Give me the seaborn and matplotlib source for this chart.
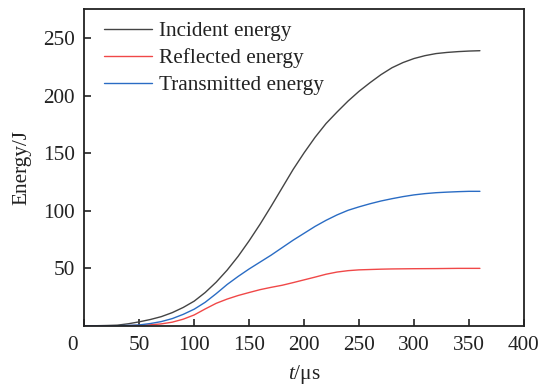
import matplotlib
matplotlib.use("Agg")
import matplotlib.pyplot as plt
import matplotlib.transforms as mtransforms
import seaborn as sns
import pandas as pd

# data
t_inc = [0, 10, 20, 30, 40, 50, 60, 70, 80, 90, 100, 110, 120, 130, 140, 150, 160, 170,
         180, 190, 200, 210, 220, 230, 240, 250, 260, 270, 280, 290, 300, 310, 320, 330,
         340, 350, 360]
incident = [0, 0.1, 0.3, 0.6, 1.8, 3.5, 5.5, 8, 11.5, 16, 21.5, 29, 38, 48.5, 60.5, 74, 88.5,
            104, 120, 136, 150.5, 164, 176, 186, 195.5, 204, 211.5, 218.5, 224.5, 229, 232.5,
            235, 236.8, 237.8, 238.5, 239, 239.3]

t_tra = [0, 10, 20, 30, 40, 50, 60, 70, 80, 90, 100, 110, 120, 130, 140, 150, 160, 170,
         180, 190, 200, 210, 220, 230, 240, 250, 260, 270, 280, 290, 300, 310, 320, 330,
         340, 350, 360]
transmitted = [0, 0, 0, 0.1, 0.4, 0.8, 2, 3.7, 6.3, 10, 14.5, 20.5, 28, 36, 43, 49.5,
               55.5, 61.5, 68, 74.5, 80.5, 86.5, 91.8, 96.5, 100.5, 103.5, 106.2, 108.6, 110.6,
               112.4, 113.9, 115, 115.8, 116.3, 116.7, 117, 117]

t_ref = [0, 10, 20, 30, 40, 50, 60, 70, 80, 90, 100, 110, 120, 130, 140, 150, 160, 170,
         180, 190, 200, 210, 220, 230, 240, 250, 260, 270, 280, 300, 320, 340, 360]
reflected = [0, 0, 0, 0, 0.2, 0.4, 0.9, 1.7, 3.2, 5.8, 9.5, 14.7, 19.6, 23.3, 26.4, 29, 31.5,
             33.5, 35.3, 37.6, 40, 42.4, 44.9, 46.8, 48, 48.7, 49, 49.3, 49.5, 49.7, 49.8, 50, 50]

series_names = ["Incident energy", "Reflected energy", "Transmitted energy"]
colors = ["#444444", "#f04848", "#2a6cc4"]
xticks = [0, 50, 100, 150, 200, 250, 300, 350, 400]
yticks = [50, 100, 150, 200, 250]

df = pd.concat([
    pd.DataFrame({"t": t_inc, "E": incident, "s": series_names[0]}),
    pd.DataFrame({"t": t_ref, "E": reflected, "s": series_names[1]}),
    pd.DataFrame({"t": t_tra, "E": transmitted, "s": series_names[2]}),
])

sns.set_theme(style="white")
plt.rcParams['font.family'] = ['Liberation Serif', 'DejaVu Serif']
plt.rcParams['mathtext.fontset'] = 'custom'
plt.rcParams['mathtext.it'] = 'Liberation Serif:italic'
plt.rcParams['mathtext.rm'] = 'Liberation Serif'

FS = 15.3
fig = plt.figure(figsize=(5.44, 3.87), dpi=100)
ax = fig.add_axes([0.155, 0.158, 0.808, 0.82])

sns.lineplot(data=df, x="t", y="E", hue="s", palette=dict(zip(series_names, colors)),
             ax=ax, linewidth=1.0, sort=True, estimator=None)

ax.set_xlim(0, 400)
ax.set_ylim(0, 276)
ax.set_xticks(xticks)
ax.set_xticklabels([str(v) for v in xticks])
ax.set_yticks(yticks)
ax.set_yticklabels([str(v) for v in yticks])
ax.tick_params(direction="in", length=5, width=1.2, labelsize=FS, colors="#222222",
               bottom=True, left=True, top=False, right=False, pad=7)
for sp in ax.spines.values():
    sp.set_visible(True)
    sp.set_color("#222222")
    sp.set_linewidth(1.3)

# shift the origin label a little to the left
lbl0 = ax.get_xticklabels()[0]
lbl0.set_transform(lbl0.get_transform() + mtransforms.ScaledTranslation(-12/100, 0, fig.dpi_scale_trans))

ax.set_xlabel(r"$\mathit{t}$/μs", fontsize=FS, color="#222222", labelpad=6)
ax.set_ylabel("Energy/J", fontsize=FS, color="#222222", labelpad=8)

leg = ax.legend(loc="upper left", frameon=False, fontsize=FS, handlelength=2.3,
                handletextpad=0.3, labelspacing=0.33, borderaxespad=0.3,
                bbox_to_anchor=(0.01, 1.006))
for txt in leg.get_texts():
    txt.set_color("#222222")

fig.savefig("out.png", dpi=100)
